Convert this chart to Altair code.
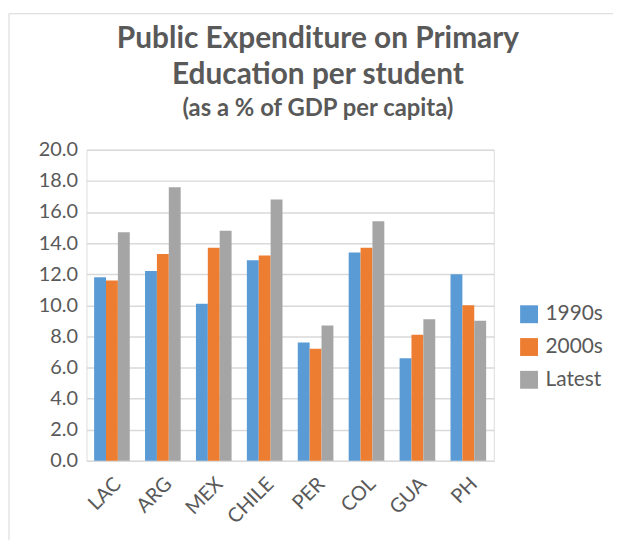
import altair as alt
import pandas as pd

countries = ["LAC", "ARG", "MEX", "CHILE", "PER", "COL", "GUA", "PH"]
series = ["1990s", "2000s", "Latest"]
v1990s = [11.8, 12.2, 10.1, 12.9, 7.6, 13.4, 6.6, 12.0]
v2000s = [11.6, 13.3, 13.7, 13.2, 7.2, 13.7, 8.1, 10.0]
vlatest = [14.7, 17.6, 14.8, 16.8, 8.7, 15.4, 9.1, 9.0]
colors = ["#5B9BD5", "#ED7D31", "#A5A5A5"]
title_lines = ["Public Expenditure on Primary", "Education per student"]
subtitle = "(as a % of GDP per capita)"

rows = []
for s, vals in zip(series, [v1990s, v2000s, vlatest]):
    for c, v in zip(countries, vals):
        rows.append({"country": c, "series": s, "value": v})
df = pd.DataFrame(rows)

FONT = "Lato"
GRAY = "#595959"
FRAME = "#D9D9D9"

bars = alt.Chart(df).mark_bar().encode(
    x=alt.X("country:N", sort=countries, title=None,
            scale=alt.Scale(paddingInner=0.3, paddingOuter=0.15),
            axis=alt.Axis(labelAngle=-45, labelAlign="right", labelBaseline="middle",
                          labelFontSize=20, labelColor=GRAY, labelFont=FONT,
                          ticks=False, domain=False, labelPadding=20, labelOffset=6)),
    xOffset=alt.XOffset("series:N", sort=series),
    y=alt.Y("value:Q", title=None,
            scale=alt.Scale(domain=[0, 20]),
            axis=alt.Axis(values=[0, 2, 4, 6, 8, 10, 12, 14, 16, 18, 20], format=".1f",
                          labelFontSize=20, labelColor=GRAY, labelFont=FONT,
                          ticks=False, domain=False, gridColor="#D9D9D9", gridWidth=1.5,
                          labelPadding=9)),
    color=alt.Color("series:N", sort=series,
                    scale=alt.Scale(domain=series, range=colors),
                    legend=alt.Legend(title=None, orient="none", legendX=435, legendY=155,
                                      symbolType="square", symbolSize=324, symbolStrokeWidth=0,
                                      labelFontSize=21, labelColor=GRAY, labelFont=FONT,
                                      rowPadding=11, labelOffset=6)),
)

one = pd.DataFrame({"k": [0]})

# decorative chart-area frame (relative to the plot origin)
frame_left = alt.Chart(one).mark_rule(color=FRAME, strokeWidth=1).encode(
    x=alt.value(-78), y=alt.value(-137), y2=alt.value(393))
frame_top = alt.Chart(one).mark_rule(color=FRAME, strokeWidth=1).encode(
    x=alt.value(-78), x2=alt.value(530), y=alt.value(-137))

# chart title drawn as text
t1 = alt.Chart(one).mark_text(font=FONT, fontSize=30, fontWeight="bold", color=GRAY,
                              align="center", baseline="alphabetic").encode(
    x=alt.value(233), y=alt.value(-103), text=alt.value(title_lines[0]))
t2 = alt.Chart(one).mark_text(font=FONT, fontSize=30, fontWeight="bold", color=GRAY,
                              align="center", baseline="alphabetic").encode(
    x=alt.value(233), y=alt.value(-66), text=alt.value(title_lines[1]))
t3 = alt.Chart(one).mark_text(font=FONT, fontSize=24, fontWeight="bold", color=GRAY,
                              align="center", baseline="alphabetic").encode(
    x=alt.value(233), y=alt.value(-34), text=alt.value(subtitle))

chart = alt.layer(bars, frame_left, frame_top, t1, t2, t3).properties(
    width=410,
    height=313,
    autosize=alt.AutoSizeParams(type="none"),
    padding={"left": 79, "top": 141, "right": 120, "bottom": 80},
).configure_view(stroke=None).configure(background="white")

chart.save("out.html", embed_options={"renderer": "svg", "actions": False})
